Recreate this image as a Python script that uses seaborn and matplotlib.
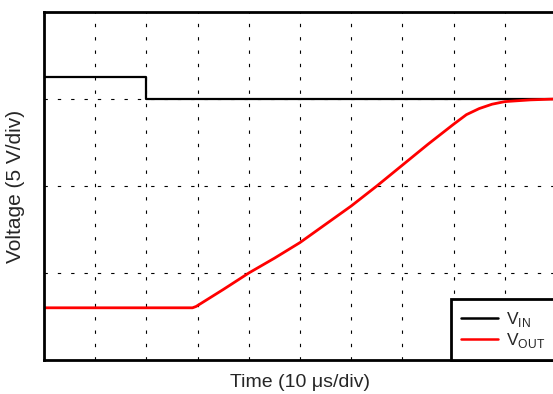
import matplotlib
matplotlib.use("Agg")
import matplotlib.pyplot as plt
import seaborn as sns

# --- Data (in divisions: x = 10 us/div, y = 5 V/div) ---
vin_t = [0, 2.0, 2.0, 10]
vin_v = [3.25, 3.25, 3.0, 3.0]

vout_t = [0, 2.9, 2.97, 3.5, 4.0, 4.5, 5.0, 5.5, 6.0, 6.5, 7.0, 7.5,
          8.0, 8.25, 8.5, 8.75, 9.0, 9.5, 10]
vout_v = [0.6, 0.6, 0.615, 0.81, 1.0, 1.17, 1.35, 1.56, 1.77, 2.0, 2.24, 2.48,
          2.71, 2.82, 2.89, 2.94, 2.97, 2.99, 3.0]

labels = [r"V$_{\mathregular{IN}}$", r"V$_{\mathregular{OUT}}$"]

sns.set_style("white")
plt.rcParams['font.family'] = ['Liberation Sans', 'DejaVu Sans']

fig = plt.figure(figsize=(5.53, 3.94), dpi=100)
ax = fig.add_axes([44 / 553, 34 / 394, 512 / 553, 348 / 394])

sns.lineplot(x=vin_t, y=vin_v, ax=ax, color="black", linewidth=1.6,
             estimator=None, sort=False, label=labels[0])
sns.lineplot(x=vout_t, y=vout_v, ax=ax, color="#ff0000", linewidth=2.0,
             estimator=None, sort=False, label=labels[1])

ax.set_xlim(0, 10)
ax.set_ylim(0, 4)
ax.set_xticks(range(1, 10))
ax.set_yticks(range(1, 4))
ax.set_xticklabels([])
ax.set_yticklabels([])
ax.tick_params(length=0, pad=0)
ax.grid(True, color="black", linestyle=(0, (3, 9)), linewidth=0.8)

for sp in ax.spines.values():
    sp.set_color("black")
    sp.set_linewidth(2.0)

ax.set_xlabel("Time (10 μs/div)", fontsize=14, labelpad=10)
ax.set_ylabel("Voltage (5 V/div)", fontsize=15, labelpad=14)

leg = ax.legend(loc="lower right", bbox_to_anchor=(1, 0), borderaxespad=0,
                fancybox=False, framealpha=1, edgecolor="black",
                fontsize=12.5, handlelength=2.1, handletextpad=0.5,
                labelspacing=0.1, borderpad=0.6)
leg.get_frame().set_linewidth(2.0)
for line in leg.get_lines():
    line.set_linewidth(1.8)

fig.savefig("out.png", dpi=100)
